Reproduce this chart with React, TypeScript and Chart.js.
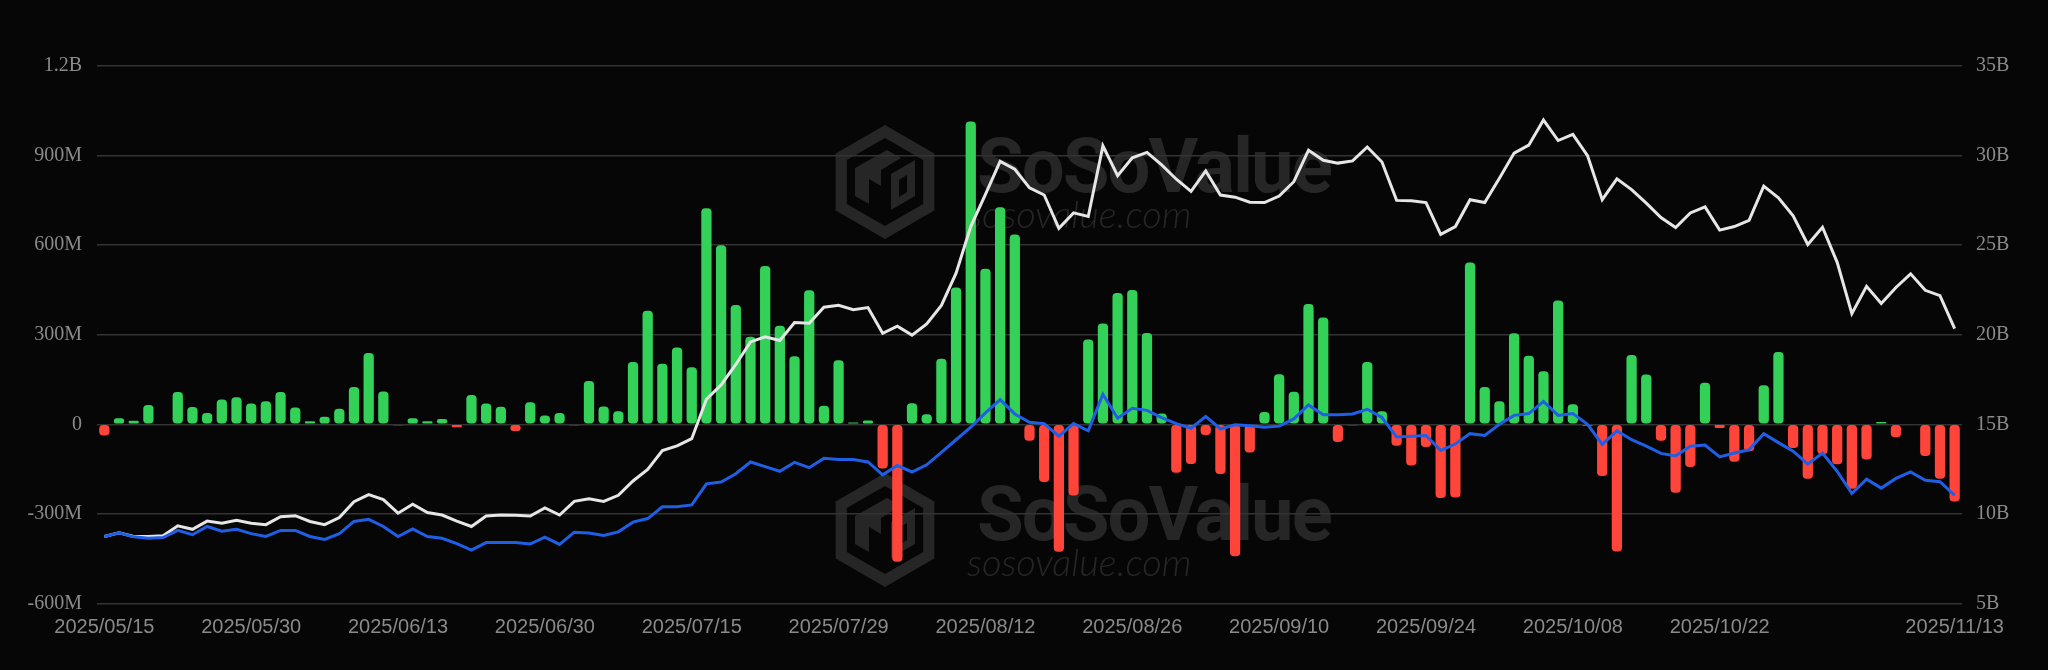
import React, { useEffect, useRef } from "react";
import { Chart, registerables } from "chart.js";

Chart.register(...registerables);

const dates: string[] = [
  "2025/05/15","2025/05/16","2025/05/19","2025/05/20","2025/05/21","2025/05/22","2025/05/23","2025/05/27","2025/05/28","2025/05/29",
  "2025/05/30","2025/06/02","2025/06/03","2025/06/04","2025/06/05","2025/06/06","2025/06/09","2025/06/10","2025/06/11","2025/06/12",
  "2025/06/13","2025/06/16","2025/06/17","2025/06/18","2025/06/20","2025/06/23","2025/06/24","2025/06/25","2025/06/26","2025/06/27",
  "2025/06/30","2025/07/01","2025/07/02","2025/07/03","2025/07/07","2025/07/08","2025/07/09","2025/07/10","2025/07/11","2025/07/14",
  "2025/07/15","2025/07/16","2025/07/17","2025/07/18","2025/07/21","2025/07/22","2025/07/23","2025/07/24","2025/07/25","2025/07/28",
  "2025/07/29","2025/07/30","2025/07/31","2025/08/01","2025/08/04","2025/08/05","2025/08/06","2025/08/07","2025/08/08","2025/08/11",
  "2025/08/12","2025/08/13","2025/08/14","2025/08/15","2025/08/18","2025/08/19","2025/08/20","2025/08/21","2025/08/22","2025/08/25",
  "2025/08/26","2025/08/27","2025/08/28","2025/08/29","2025/09/02","2025/09/03","2025/09/04","2025/09/05","2025/09/08","2025/09/09",
  "2025/09/10","2025/09/11","2025/09/12","2025/09/15","2025/09/16","2025/09/17","2025/09/18","2025/09/19","2025/09/22","2025/09/23",
  "2025/09/24","2025/09/25","2025/09/26","2025/09/29","2025/09/30","2025/10/01","2025/10/02","2025/10/03","2025/10/06","2025/10/07",
  "2025/10/08","2025/10/09","2025/10/10","2025/10/13","2025/10/14","2025/10/15","2025/10/16","2025/10/17","2025/10/20","2025/10/21",
  "2025/10/22","2025/10/23","2025/10/24","2025/10/27","2025/10/28","2025/10/29","2025/10/30","2025/10/31","2025/11/03","2025/11/04",
  "2025/11/05","2025/11/06","2025/11/07","2025/11/10","2025/11/11","2025/11/12","2025/11/13"
];

// Daily total net inflow, millions USD (left axis)
const netInflowM: number[] = [
  -37, 20, 12, 65, 0, 108, 58, 38, 83, 91,
  70, 77, 108, 56, 10, 25, 52, 125, 239, 110,
  -3, 20, 10, 18, -10, 98, 70, 59, -22, 74,
  30, 38, -3, 145, 60, 44, 209, 380, 203, 257,
  191, 724, 600, 400, 293, 530, 330, 228, 449, 62,
  215, 6, 13, -148, -460, 71, 34, 220, 458, 1014,
  521, 727, 636, -55, -193, -427, -238, 284, 338, 440,
  450, 306, 36, -162, -133, -36, -166, -442, -94, 41,
  168, 109, 403, 358, -59, -3, 209, 44, -72, -138,
  -76, -247, -245, 542, 125, 77, 305, 230, 178, 415,
  67, -5, -173, -426, 232, 167, -55, -229, -143, 139,
  -12, -125, -90, 131, 242, -79, -182, -100, -134, -216,
  -118, 8, -43, 0, -106, -182, -258
];

// Total net assets, billions USD (right axis)
const totalNetAssetsB: number[] = [
  8.74, 8.94, 8.74, 8.74, 8.78, 9.34, 9.14, 9.6, 9.48, 9.64,
  9.48, 9.4, 9.84, 9.9, 9.58, 9.4, 9.8, 10.68, 11.08, 10.8,
  10.04, 10.54, 10.08, 9.94, 9.6, 9.3, 9.88, 9.94, 9.92, 9.88,
  10.34, 9.94, 10.7, 10.84, 10.7, 11.04, 11.84, 12.48, 13.54, 13.8,
  14.2, 16.4, 17.2, 18.34, 19.6, 19.88, 19.68, 20.68, 20.64, 21.54,
  21.64, 21.4, 21.52, 20.08, 20.48, 19.98, 20.6, 21.64, 23.44, 26.04,
  27.84, 29.68, 29.24, 28.2, 27.8, 25.94, 26.8, 26.6, 30.54, 28.88,
  29.88, 30.18, 29.48, 28.68, 28.0, 29.14, 27.8, 27.68, 27.4, 27.38,
  27.74, 28.54, 30.3, 29.74, 29.58, 29.7, 30.48, 29.64, 27.5, 27.48,
  27.38, 25.6, 26.04, 27.54, 27.38, 28.74, 30.14, 30.58, 31.98, 30.84,
  31.18, 30.0, 27.54, 28.7, 28.1, 27.35, 26.54, 25.98, 26.8, 27.14,
  25.84, 26.04, 26.38, 28.3, 27.64, 26.64, 25.04, 26.0, 24.04, 21.18,
  22.7, 21.74, 22.64, 23.4, 22.48, 22.18, 20.34
];

// Blue line, plotted against the right axis scale
const blueLineB: number[] = [
  8.74, 8.94, 8.72, 8.64, 8.68, 9.08, 8.84, 9.3, 9.04, 9.14,
  8.9, 8.74, 9.08, 9.08, 8.74, 8.58, 8.9, 9.58, 9.7, 9.3,
  8.74, 9.16, 8.74, 8.64, 8.34, 7.98, 8.4, 8.4, 8.4, 8.32,
  8.7, 8.3, 8.98, 8.94, 8.8, 9.0, 9.54, 9.74, 10.4, 10.4,
  10.5, 11.68, 11.78, 12.24, 12.9, 12.64, 12.38, 12.88, 12.58, 13.1,
  13.04, 13.04, 12.9, 12.18, 12.7, 12.34, 12.74, 13.44, 14.14, 14.84,
  15.64, 16.38, 15.58, 15.12, 15.04, 14.34, 15.04, 14.64, 16.68, 15.34,
  15.9, 15.78, 15.38, 15.04, 14.78, 15.44, 14.74, 14.98, 14.92, 14.84,
  14.9, 15.3, 16.08, 15.54, 15.54, 15.58, 15.84, 15.38, 14.3, 14.34,
  14.38, 13.54, 13.9, 14.48, 14.38, 15.0, 15.5, 15.6, 16.28, 15.5,
  15.6, 15.0, 13.88, 14.64, 14.14, 13.78, 13.38, 13.24, 13.78, 13.84,
  13.18, 13.4, 13.58, 14.48, 13.98, 13.5, 12.78, 13.4, 12.38, 11.14,
  11.94, 11.44, 11.98, 12.34, 11.88, 11.8, 11.04
];

const leftMin = -600;
const leftMax = 1200;
const leftStep = 300;
const rightMin = 5;
const rightMax = 35;
const rightStep = 5;

const BG = "#060606";
const GREEN = "#33D158";
const RED = "#FF453A";
const WHITE = "#E6E6E6";
const BLUE = "#1F5FE6";
const LABEL = "#8A8A8A";
const GRID = "#333333";
const MARK = "#262626";

// cx: logo centre x, by: baseline of the big "SoSoValue" word
function drawMark(ctx: CanvasRenderingContext2D, cx: number, by: number) {
  const cy = by - 10;
  const R = 57;
  const hex = (r: number) => {
    ctx.beginPath();
    for (let k = 0; k < 6; k++) {
      const a = Math.PI / 2 + (k * Math.PI) / 3;
      const x = cx + r * Math.cos(a);
      const y = cy - r * Math.sin(a);
      if (k === 0) ctx.moveTo(x, y);
      else ctx.lineTo(x, y);
    }
    ctx.closePath();
  };
  ctx.fillStyle = MARK;
  hex(R);
  ctx.fill();
  ctx.fillStyle = BG;
  hex(R - 13);
  ctx.fill();
  // inner block shapes
  ctx.fillStyle = MARK;
  ctx.beginPath();
  ctx.moveTo(cx - 30, cy - 14);
  ctx.lineTo(cx + 2, cy - 32);
  ctx.lineTo(cx + 16, cy - 24);
  ctx.lineTo(cx - 4, cy - 12);
  ctx.lineTo(cx - 4, cy + 4);
  ctx.lineTo(cx - 16, cy - 3);
  ctx.lineTo(cx - 16, cy + 22);
  ctx.lineTo(cx - 30, cy + 14);
  ctx.closePath();
  ctx.fill();
  ctx.beginPath();
  ctx.moveTo(cx + 6, cy - 8);
  ctx.lineTo(cx + 30, cy - 22);
  ctx.lineTo(cx + 30, cy + 14);
  ctx.lineTo(cx + 6, cy + 28);
  ctx.closePath();
  ctx.fill();
  ctx.fillStyle = BG;
  ctx.beginPath();
  ctx.moveTo(cx + 14, cy - 2);
  ctx.lineTo(cx + 22, cy - 7);
  ctx.lineTo(cx + 22, cy + 10);
  ctx.lineTo(cx + 14, cy + 15);
  ctx.closePath();
  ctx.fill();
  ctx.fillStyle = MARK;
  ctx.textAlign = "left";
  ctx.textBaseline = "alphabetic";
  ctx.font = "bold 76px Roboto";
  (ctx as any).letterSpacing = "-2px";
  ctx.fillText("SoSoValue", cx + 92, by);
  (ctx as any).letterSpacing = "0px";
  ctx.font = "italic 300 38px Lato";
  ctx.fillText("sosovalue.com", cx + 82, by + 36);
}

const bgPlugin = {
  id: "bgWatermark",
  beforeDraw(chart: any) {
    const ctx = chart.ctx as CanvasRenderingContext2D;
    ctx.save();
    ctx.fillStyle = BG;
    ctx.fillRect(0, 0, chart.width, chart.height);
    drawMark(ctx, 885, 192);
    drawMark(ctx, 885, 540);
    ctx.restore();
  },
};

function fmtLeft(v: number): string {
  if (v === 0) return "0";
  if (Math.abs(v) >= 1000) return `${v / 1000}B`;
  return `${v}M`;
}

export default function App() {
  const ref = useRef<HTMLCanvasElement | null>(null);

  useEffect(() => {
    document.body.style.margin = "0";
    const canvas = ref.current;
    if (!canvas) return;
    const lastIdx = dates.length - 1;
    const chart = new Chart(canvas, {
      type: "bar",
      data: {
        labels: dates,
        datasets: [
          {
            type: "line",
            label: "Blue",
            data: blueLineB,
            yAxisID: "y1",
            borderColor: BLUE,
            borderWidth: 3,
            pointRadius: 0,
            tension: 0,
            order: 1,
          } as any,
          {
            type: "line",
            label: "Total Net Assets",
            data: totalNetAssetsB,
            yAxisID: "y1",
            borderColor: WHITE,
            borderWidth: 3,
            pointRadius: 0,
            tension: 0,
            order: 2,
          } as any,
          {
            type: "bar",
            label: "Daily Net Inflow",
            data: netInflowM,
            yAxisID: "y",
            backgroundColor: netInflowM.map((v) => (v >= 0 ? GREEN : RED)),
            borderRadius: 4,
            borderSkipped: false,
            barPercentage: 0.7,
            categoryPercentage: 1,
            order: 3,
          },
        ],
      },
      options: {
        animation: false,
        responsive: true,
        maintainAspectRatio: false,
        layout: { padding: { top: 66, left: 0, right: 0, bottom: 0 } },
        plugins: { legend: { display: false }, tooltip: { enabled: false } },
        scales: {
          x: {
            offset: true,
            grid: { display: false, drawTicks: false },
            border: { display: false },
            afterFit: (s: any) => {
              s.height = 66.5;
            },
            ticks: {
              autoSkip: false,
              maxRotation: 0,
              minRotation: 0,
              padding: 12,
              color: LABEL,
              font: { family: "'Liberation Sans', Arial, sans-serif", size: 20 },
              callback: (_v: any, i: number) =>
                (i % 10 === 0 && i <= 110) || i === lastIdx ? dates[i] : "",
            },
          },
          y: {
            position: "left",
            min: leftMin,
            max: leftMax,
            grid: { color: GRID, lineWidth: 1.5, drawTicks: false },
            border: { display: false },
            afterFit: (s: any) => {
              s.width = 97;
            },
            ticks: {
              stepSize: leftStep,
              padding: 15,
              color: LABEL,
              font: { family: "'Liberation Serif', 'Times New Roman', serif", size: 20 },
              callback: (v: any) => fmtLeft(Number(v)),
            },
          },
          y1: {
            position: "right",
            min: rightMin,
            max: rightMax,
            grid: { display: false, drawTicks: false },
            border: { display: false },
            afterFit: (s: any) => {
              s.width = 86;
            },
            ticks: {
              stepSize: rightStep,
              padding: 14,
              color: LABEL,
              font: { family: "'Liberation Serif', 'Times New Roman', serif", size: 20 },
              callback: (v: any) => `${v}B`,
            },
          },
        },
      },
      plugins: [bgPlugin],
    });
    return () => chart.destroy();
  }, []);

  return (
    <div style={{ position: "fixed", left: 0, top: 0, width: 2048, height: 670, background: BG }}>
      <canvas ref={ref} />
    </div>
  );
}
